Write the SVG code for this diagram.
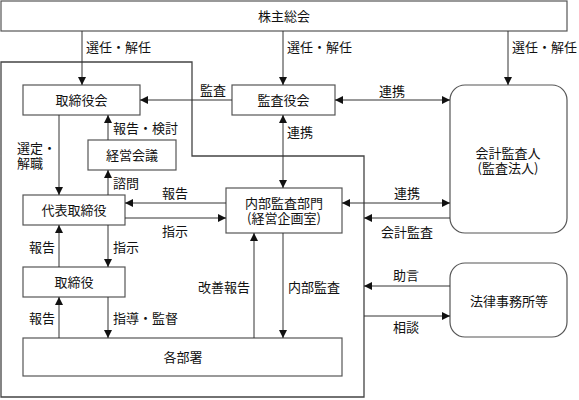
<svg xmlns="http://www.w3.org/2000/svg" width="579" height="400" viewBox="0 0 579 400">
<style>
text{font-family:"Noto Sans CJK JP","Noto Sans CJK SC",sans-serif;font-size:13px;fill:#111}
.c{text-anchor:middle}
.box{fill:#fff;stroke:#555;stroke-width:1.2}
.ln{fill:none;stroke:#333;stroke-width:1}
.ol{fill:none;stroke:#444;stroke-width:1.3}
</style>
<defs>
<marker id="ah" viewBox="0 0 10 10" refX="10" refY="5" markerWidth="8" markerHeight="8" markerUnits="userSpaceOnUse" orient="auto-start-reverse">
<path d="M0,0 L10,5 L0,10 z" fill="#111"/>
</marker>
</defs>
<rect width="579" height="400" fill="#fff"/>
<path class="ol" d="M1,62 H192 V156 H364 V397 H1 Z"/>

<g id="kabunushi"><rect class="box" x="1" y="1" width="566" height="30"/><text class="c" x="284" y="21">株主総会</text></g>
<g id="torishimariyakukai"><rect class="box" x="23" y="85" width="117" height="30"/><text class="c" x="81.5" y="105">取締役会</text></g>
<g id="kansayakukai"><rect class="box" x="232" y="85" width="103" height="30"/><text class="c" x="283.5" y="105">監査役会</text></g>
<g id="kaikeikansanin"><rect class="box" x="450" y="85" width="117" height="148" rx="15"/><text class="c" x="508" y="158">会計監査人</text><text class="c" x="508" y="173">(監査法人)</text></g>
<g id="keieikaigi"><rect class="box" x="88" y="140" width="88" height="30"/><text class="c" x="132" y="160">経営会議</text></g>
<g id="daihyo"><rect class="box" x="23" y="195" width="102" height="30"/><text class="c" x="74" y="215">代表取締役</text></g>
<g id="naibukansa"><rect class="box" x="226" y="188" width="116" height="45"/><text class="c" x="284" y="208">内部監査部門</text><text class="c" x="284" y="223">(経営企画室)</text></g>
<g id="torishimariyaku"><rect class="box" x="23" y="267" width="102" height="30"/><text class="c" x="74" y="287">取締役</text></g>
<g id="kakubusho"><rect class="box" x="23" y="338" width="319" height="38"/><text class="c" x="183" y="362">各部署</text></g>
<g id="houritsu"><rect class="box" x="450" y="263" width="117" height="74" rx="15"/><text class="c" x="509" y="306">法律事務所等</text></g>

<g id="connectors">
<line class="ln" x1="82" y1="31" x2="82" y2="85" marker-end="url(#ah)"/>
<line class="ln" x1="283" y1="31" x2="283" y2="85" marker-end="url(#ah)"/>
<line class="ln" x1="508" y1="31" x2="508" y2="85" marker-end="url(#ah)"/>
<line class="ln" x1="232" y1="100" x2="140" y2="100" marker-end="url(#ah)"/>
<line class="ln" x1="335" y1="100" x2="450" y2="100" marker-start="url(#ah)" marker-end="url(#ah)"/>
<line class="ln" x1="283" y1="115" x2="283" y2="188" marker-start="url(#ah)" marker-end="url(#ah)"/>
<line class="ln" x1="59" y1="115" x2="59" y2="195" marker-end="url(#ah)"/>
<line class="ln" x1="108" y1="140" x2="108" y2="115" marker-end="url(#ah)"/>
<line class="ln" x1="108" y1="195" x2="108" y2="170" marker-end="url(#ah)"/>
<line class="ln" x1="226" y1="203" x2="125" y2="203" marker-end="url(#ah)"/>
<line class="ln" x1="125" y1="218" x2="226" y2="218" marker-end="url(#ah)"/>
<line class="ln" x1="342" y1="203" x2="450" y2="203" marker-start="url(#ah)" marker-end="url(#ah)"/>
<line class="ln" x1="450" y1="218" x2="364" y2="218" marker-end="url(#ah)"/>
<line class="ln" x1="108" y1="225" x2="108" y2="267" marker-end="url(#ah)"/>
<line class="ln" x1="59" y1="267" x2="59" y2="225" marker-end="url(#ah)"/>
<line class="ln" x1="108" y1="297" x2="108" y2="338" marker-end="url(#ah)"/>
<line class="ln" x1="59" y1="338" x2="59" y2="297" marker-end="url(#ah)"/>
<line class="ln" x1="254" y1="338" x2="254" y2="233" marker-end="url(#ah)"/>
<line class="ln" x1="283" y1="233" x2="283" y2="338" marker-end="url(#ah)"/>
<line class="ln" x1="450" y1="286" x2="364" y2="286" marker-end="url(#ah)"/>
<line class="ln" x1="364" y1="316" x2="450" y2="316" marker-end="url(#ah)"/>
</g>

<g id="labels">
<text x="86" y="52">選任・解任</text>
<text x="287" y="52">選任・解任</text>
<text x="512" y="52">選任・解任</text>
<text x="200" y="95">監査</text>
<text x="379" y="96">連携</text>
<text x="287" y="137">連携</text>
<text x="113" y="133">報告・検討</text>
<text x="17" y="153">選定・</text>
<text x="17" y="168">解職</text>
<text x="113" y="188">諮問</text>
<text x="162" y="198">報告</text>
<text x="162" y="236">指示</text>
<text x="394" y="198">連携</text>
<text x="381" y="237">会計監査</text>
<text x="113" y="252">指示</text>
<text x="29" y="252">報告</text>
<text x="198" y="292">改善報告</text>
<text x="288" y="292">内部監査</text>
<text x="393" y="280">助言</text>
<text x="29" y="323">報告</text>
<text x="113" y="323">指導・監督</text>
<text x="393" y="332">相談</text>
</g>
</svg>
